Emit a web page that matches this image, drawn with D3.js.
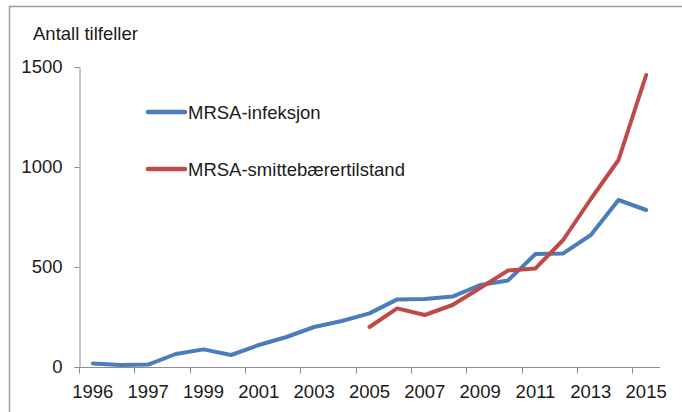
<!DOCTYPE html>
<html>
<head>
<meta charset="utf-8">
<script src="https://cdn.jsdelivr.net/npm/d3@7"></script>
<style>
  body { margin: 0; background: #fff; }
  svg text { font-family: "Liberation Sans", Arial, sans-serif; fill: #1a1a1a; }
</style>
</head>
<body>
<script>
(function(){

//chart data, one entry per category (21 categories, labels on every second one)
var categories = ["1995", "1996", "1997", "1998", "1999", "2000", "2001", "2002", "2003", "2004", "2005",
                  "2006", "2007", "2008", "2009", "2010", "2011", "2012", "2013", "2014", "2015"];
var xTickLabels = ["1996", "1997", "1999", "2001", "2003", "2005", "2007", "2009", "2011", "2013", "2015"];
var yTicks = [0, 500, 1000, 1500];

var infeksjon = [18, 10, 12, 65, 88, 60, 110, 150, 200, 230, 268,
                 338, 340, 352, 410, 432, 565, 568, 660, 835, 785];
var smittebaerer = [null, null, null, null, null, null, null, null, null, null, 200,
                    293, 260, 310, 395, 482, 493, 635, 840, 1035, 1460];

var seriesNames = ["MRSA-infeksjon", "MRSA-smittebærertilstand"];
var seriesColors = ["#4a7ebb", "#be4b48"];

window.onload = drawChart();

function drawChart(){

    var width = 682,
        height = 412;

    var svg = d3.select("body")
        .append("svg")
        .attr("width", width)
        .attr("height", height);

    //outer frame
    svg.append("rect")
        .attr("x", 9.5)
        .attr("y", 6.5)
        .attr("width", 700)
        .attr("height", 440)
        .attr("fill", "none")
        .attr("stroke", "#9a9a9a")
        .attr("stroke-width", 1.5);

    var x = d3.scaleBand()
        .domain(categories)
        .range([79, 660]);

    var y = d3.scaleLinear()
        .domain([0, 1500])
        .range([367, 67]);

    //y axis
    var yAxis = svg.append("g")
        .attr("transform", "translate(79.5,0)")
        .call(d3.axisLeft(y).tickValues(yTicks).tickFormat(d3.format("d")).tickSize(5).tickPadding(12));

    //x axis, ticks sit on category edges every second category
    var edges = categories.filter(function(d, i){ return i % 2 === 0; });
    var xAxis = svg.append("g")
        .attr("transform", "translate(0,367.5)");
    xAxis.append("line")
        .attr("x1", 79).attr("x2", 660)
        .attr("stroke", "#8c8c8c");
    xAxis.selectAll(".xtick")
        .data(edges)
        .enter()
        .append("line")
        .attr("class", "xtick")
        .attr("x1", function(d){ return Math.round(x(d)) + 0.5; })
        .attr("x2", function(d){ return Math.round(x(d)) + 0.5; })
        .attr("y1", 0).attr("y2", 6)
        .attr("stroke", "#8c8c8c");
    xAxis.selectAll(".xlabel")
        .data(edges)
        .enter()
        .append("text")
        .attr("class", "xlabel")
        .attr("x", function(d){ return x(d) + x.bandwidth() / 2; })
        .attr("y", 30)
        .attr("text-anchor", "middle")
        .style("font-size", "18.5px")
        .text(function(d, i){ return xTickLabels[i]; });

    yAxis.select(".domain").attr("stroke", "#8c8c8c");
    yAxis.selectAll(".tick line").attr("stroke", "#8c8c8c");
    yAxis.selectAll(".tick text")
        .style("font-size", "18.5px")
        .attr("fill", "#1a1a1a");

    //axis title
    svg.append("text")
        .attr("x", 33)
        .attr("y", 40)
        .style("font-size", "18.5px")
        .text("Antall tilfeller");

    var line = d3.line()
        .defined(function(d){ return d.value !== null; })
        .x(function(d){ return x(d.cat) + x.bandwidth() / 2; })
        .y(function(d){ return y(d.value); });

    [infeksjon, smittebaerer].forEach(function(values, s){
        var pts = categories.map(function(c, i){ return {cat: c, value: values[i]}; });
        svg.append("path")
            .datum(pts)
            .attr("d", line)
            .attr("fill", "none")
            .attr("stroke", seriesColors[s])
            .attr("stroke-width", 4)
            .attr("stroke-linejoin", "round")
            .attr("stroke-linecap", "round");
    });

    //legend
    var legend = svg.selectAll(".legend")
        .data(seriesNames)
        .enter()
        .append("g")
        .attr("class", "legend")
        .attr("transform", function(d, i){ return "translate(148," + (112 + i * 57) + ")"; });

    legend.append("line")
        .attr("x1", 0).attr("x2", 37)
        .attr("stroke", function(d, i){ return seriesColors[i]; })
        .attr("stroke-width", 4.5)
        .attr("stroke-linecap", "round");

    legend.append("text")
        .attr("x", 40)
        .attr("y", 6.5)
        .style("font-size", "18.5px")
        .text(function(d){ return d; });
};

})();
</script>
</body>
</html>
